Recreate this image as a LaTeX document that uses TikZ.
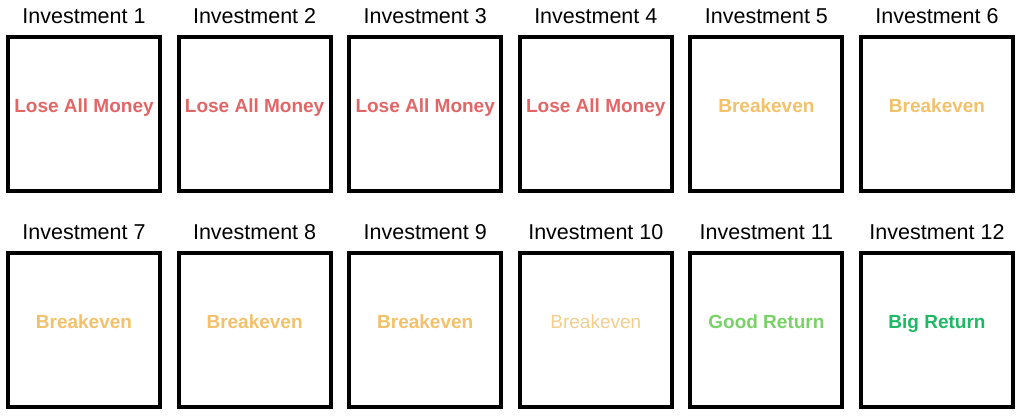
\documentclass[tikz,border=0pt]{standalone}
\usepackage{fontspec}
\setmainfont{Liberation Sans}
\definecolor{lossred}{RGB}{226,102,102}
\definecolor{evenorange}{RGB}{243,193,106}
\definecolor{evenpale}{RGB}{243,206,140}
\definecolor{goodgreen}{RGB}{120,210,102}
\definecolor{biggreen}{RGB}{30,185,100}
\tikzset{
  invbox/.style={draw, line width=4pt, minimum width=152pt, minimum height=154pt, inner sep=0pt},
  title/.style={inner sep=0pt, font=\fontsize{21.5}{24}\selectfont},
  outcome/.style={inner sep=0pt, text height=14pt, text depth=4pt, yshift=6.5pt, font=\fontsize{19}{22}\selectfont\bfseries},
}
\begin{document}
\begin{tikzpicture}[x=1pt,y=-1pt,label distance=11pt]
         \fill[white] (0,0) rectangle (1024,415);
         % first row
         \node[invbox,label={[title]above:Investment 1},label={[outcome,lossred]center:Lose All Money}] (inv1) at (84,113.5) {};
         \node[invbox,label={[title]above:Investment 2},label={[outcome,lossred]center:Lose All Money}] (inv2) at (254.6,113.5) {};
         \node[invbox,label={[title]above:Investment 3},label={[outcome,lossred]center:Lose All Money}] (inv3) at (425.2,113.5) {};
         \node[invbox,label={[title]above:Investment 4},label={[outcome,lossred]center:Lose All Money}] (inv4) at (595.8,113.5) {};
         \node[invbox,label={[title]above:Investment 5},label={[outcome,evenorange]center:Breakeven}] (inv5) at (766.4,113.5) {};
         \node[invbox,label={[title]above:Investment 6},label={[outcome,evenorange]center:Breakeven}] (inv6) at (937,113.5) {};
         % second row
         \node[invbox,label={[title]above:Investment 7},label={[outcome,evenorange]center:Breakeven}] (inv7) at (84,330) {};
         \node[invbox,label={[title]above:Investment 8},label={[outcome,evenorange]center:Breakeven}] (inv8) at (254.6,330) {};
         \node[invbox,label={[title]above:Investment 9},label={[outcome,evenorange]center:Breakeven}] (inv9) at (425.2,330) {};
         \node[invbox,label={[title]above:Investment 10},label={[outcome,evenpale,font=\fontsize{19}{22}\selectfont]center:Breakeven}] (inv10) at (595.8,330) {};
         \node[invbox,label={[title]above:Investment 11},label={[outcome,goodgreen]center:Good Return}] (inv11) at (766.4,330) {};
         \node[invbox,label={[title]above:Investment 12},label={[outcome,biggreen]center:Big Return}] (inv12) at (937,330) {};
      \end{tikzpicture}
\end{document}
